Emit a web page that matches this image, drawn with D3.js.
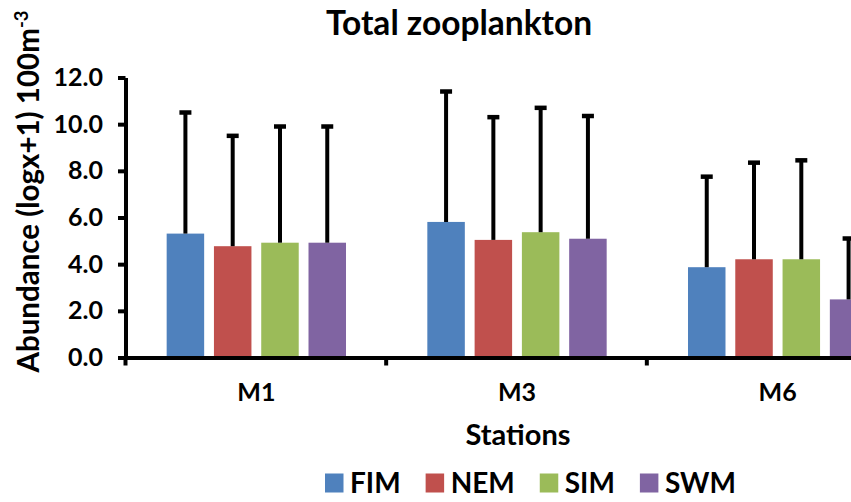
<!DOCTYPE html>
<html>
<head>
<meta charset="utf-8">
<script src="https://cdn.jsdelivr.net/npm/d3@7"></script>
<style>
  html, body { margin: 0; padding: 0; background: #fff; }
  svg { display: block; font-family: "Lato", "Open Sans", sans-serif; font-weight: bold; }
</style>
</head>
<body>
<svg id="chart" width="851" height="502"></svg>
<script>
// Stations and seasons
const categories = ["M1", "M3", "M6"];
const series = ["FIM", "NEM", "SIM", "SWM"];

// Mean abundance (log x+1) per station, one array per season
const fimMean = [5.31, 5.81, 3.87];
const nemMean = [4.77, 5.04, 4.21];
const simMean = [4.92, 5.37, 4.21];
const swmMean = [4.92, 5.09, 2.49];

// Standard deviations (upper error bars)
const fimSD = [5.19, 5.59, 3.88];
const nemSD = [4.73, 5.26, 4.14];
const simSD = [4.98, 5.33, 4.24];
const swmSD = [4.98, 5.26, 2.61];

// Y axis ticks
const yTicks = [0, 2, 4, 6, 8, 10, 12];

const colors = ["#4F81BD", "#C0504D", "#9BBB59", "#8064A2"];

const meansBySeries = [fimMean, nemMean, simMean, swmMean];
const sdBySeries = [fimSD, nemSD, simSD, swmSD];

const rows = [];
categories.forEach((c, i) => {
  series.forEach((s, j) => {
    rows.push({ station: c, season: s, mean: meansBySeries[j][i], sd: sdBySeries[j][i] });
  });
});

const svg = d3.select("#chart");

// The plot area runs on past the right edge of the page
const plotLeft = 126, plotRight = 908, plotTop = 77.5, plotBottom = 357.5;

const x0 = d3.scaleBand().domain(categories).range([plotLeft, plotRight]).padding(0);
const x1 = d3.scaleBand().domain(series).range([0, x0.bandwidth()])
  .paddingInner(0.207).paddingOuter(0.86);
const y = d3.scaleLinear().domain([0, 12]).range([plotBottom, plotTop]);
const color = d3.scaleOrdinal().domain(series).range(colors);

// Bars
const g = svg.append("g");
g.selectAll("rect.bar")
  .data(rows)
  .join("rect")
  .attr("class", "bar")
  .attr("x", d => x0(d.station) + x1(d.season))
  .attr("width", x1.bandwidth())
  .attr("y", d => y(d.mean))
  .attr("height", d => y(0) - y(d.mean))
  .attr("fill", d => color(d.season));

// Upper error bars
const capW = 12;
const eb = g.selectAll("g.err").data(rows).join("g").attr("class", "err");
eb.append("line")
  .attr("x1", d => x0(d.station) + x1(d.season) + x1.bandwidth() / 2)
  .attr("x2", d => x0(d.station) + x1(d.season) + x1.bandwidth() / 2)
  .attr("y1", d => y(d.mean))
  .attr("y2", d => y(d.mean + d.sd))
  .attr("stroke", "#000").attr("stroke-width", 4);
eb.append("line")
  .attr("x1", d => x0(d.station) + x1(d.season) + x1.bandwidth() / 2 - capW / 2)
  .attr("x2", d => x0(d.station) + x1(d.season) + x1.bandwidth() / 2 + capW / 2)
  .attr("y1", d => y(d.mean + d.sd))
  .attr("y2", d => y(d.mean + d.sd))
  .attr("stroke", "#000").attr("stroke-width", 4.5);

// Y axis
const yAxis = svg.append("g")
  .attr("transform", `translate(${plotLeft - 0.5},0)`)
  .call(d3.axisLeft(y).tickValues(yTicks).tickFormat(d3.format(".1f")).tickSize(7.5).tickSizeOuter(0).tickPadding(15));
yAxis.select(".domain").attr("stroke", "#000").attr("stroke-width", 4);
yAxis.selectAll(".tick line").attr("stroke", "#000").attr("stroke-width", 4);
yAxis.selectAll(".tick text").attr("font-size", 25).attr("fill", "#000")
  .attr("font-family", "Lato").attr("font-weight", "bold");

// X axis: labels centred under stations, tick marks between them
const xAxis = svg.append("g")
  .attr("transform", `translate(0,${plotBottom})`)
  .call(d3.axisBottom(x0).tickSize(0).tickSizeOuter(0).tickPadding(26));
xAxis.select(".domain").attr("stroke", "#000").attr("stroke-width", 4);
xAxis.selectAll(".tick text").attr("font-size", 25).attr("fill", "#000")
  .attr("font-family", "Lato").attr("font-weight", "bold");

const boundaries = categories.map(c => x0(c)).concat([x0.range()[1]]);
xAxis.selectAll("line.sep")
  .data(boundaries)
  .join("line")
  .attr("class", "sep")
  .attr("x1", d => d - 0.5).attr("x2", d => d - 0.5)
  .attr("y1", 0).attr("y2", 8)
  .attr("stroke", "#000").attr("stroke-width", 4);

// Title
svg.append("text")
  .attr("x", 459).attr("y", 35)
  .attr("text-anchor", "middle")
  .attr("font-size", 33.5)
  .attr("fill", "#000")
  .text("Total zooplankton");

// Axis titles
const yTitle = svg.append("text")
  .attr("transform", "translate(39,191.5) rotate(-90)")
  .attr("text-anchor", "middle")
  .attr("font-size", 29.5)
  .attr("fill", "#000");
yTitle.append("tspan").text("Abundance (logx+1) 100m");
yTitle.append("tspan").attr("baseline-shift", "super").attr("font-size", 18.5).text("-3");

svg.append("text")
  .attr("x", 518).attr("y", 445)
  .attr("text-anchor", "middle")
  .attr("font-size", 29)
  .attr("fill", "#000")
  .text("Stations");

// Legend
const legend = svg.append("g").attr("transform", "translate(325,473.5)");
let lx = 0;
series.forEach(s => {
  const item = legend.append("g").attr("transform", `translate(${lx},0)`);
  item.append("rect").attr("width", 18.5).attr("height", 19).attr("fill", color(s));
  const t = item.append("text")
    .attr("x", 25).attr("y", 19.5)
    .attr("font-size", 28)
    .attr("fill", "#000")
    .text(s);
  lx += 25 + t.node().getComputedTextLength() + 25;
});
</script>
</body>
</html>
